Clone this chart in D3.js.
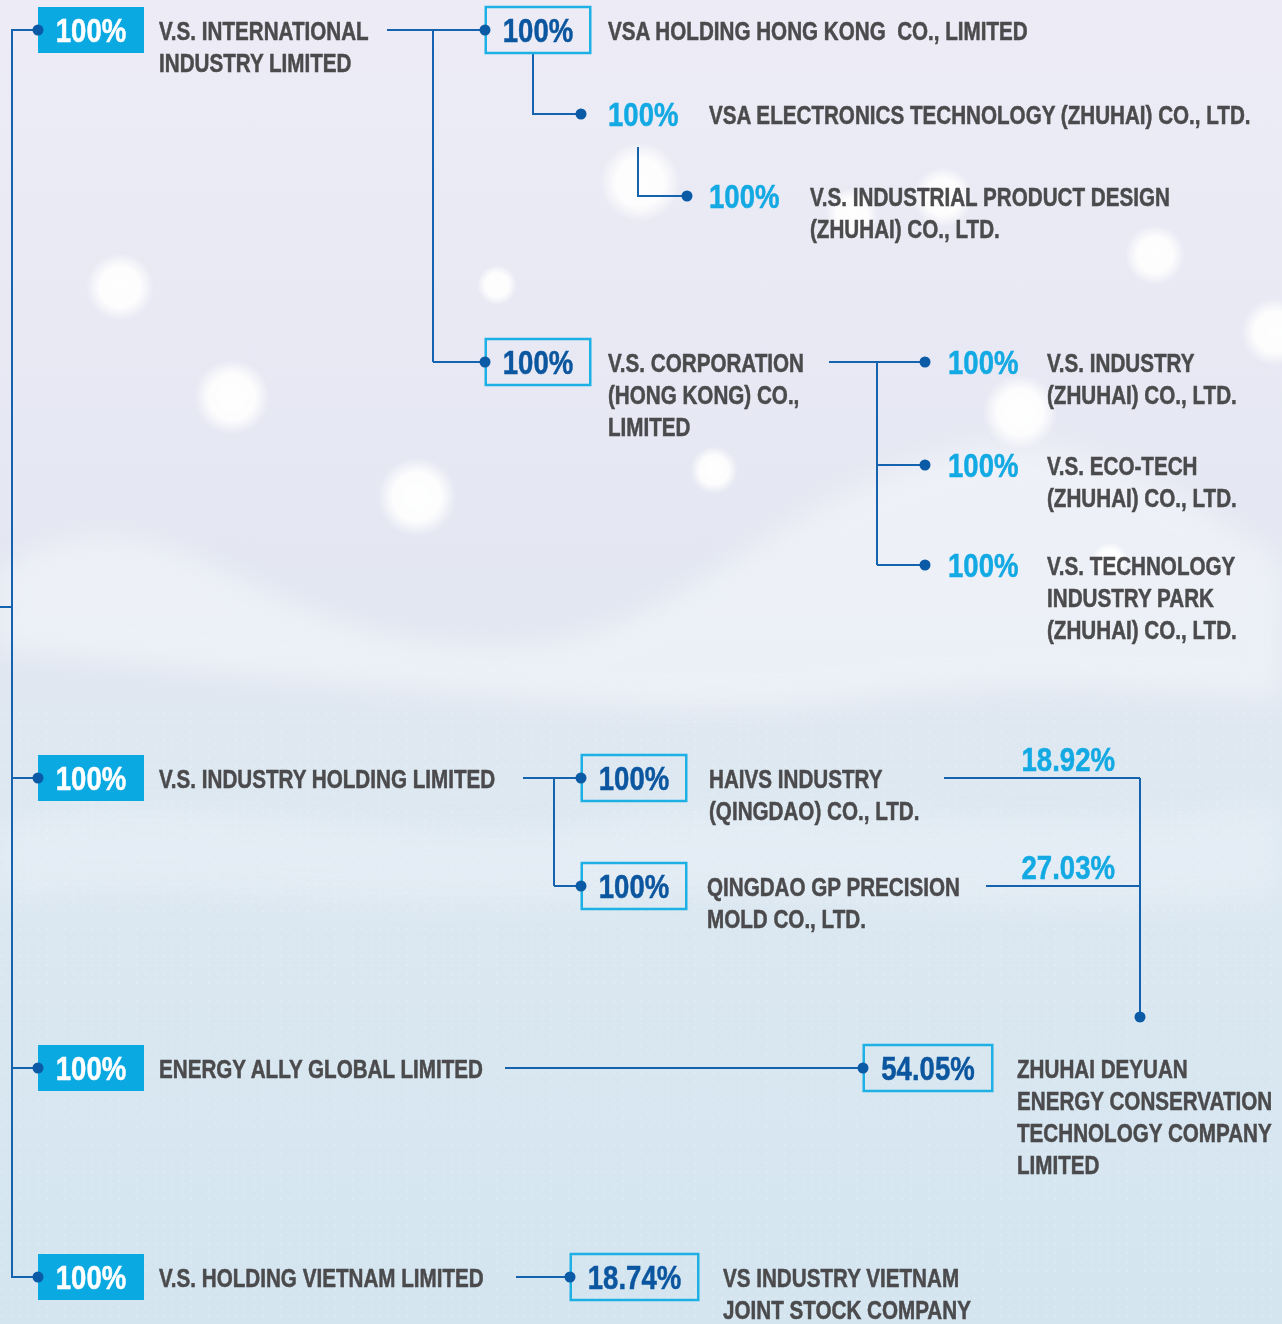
<!DOCTYPE html>
<html><head><meta charset="utf-8">
<script src="https://cdn.jsdelivr.net/npm/d3@7"></script>
<style>body{margin:0;background:#fff} svg{display:block}</style>
</head><body><svg id="c" width="1282" height="1324"></svg>
<script>
// ---------- DATA ----------
const nodeIds = ["vsi","vsahk","vsaez","vsipd","vschk","vsiz","vset","vstip","vsih","haivs","qgp","eag","deyuan","vshv","vsiv"];
const nodeNames = [
  ["V.S. INTERNATIONAL","INDUSTRY LIMITED"],
  ["VSA HOLDING HONG KONG  CO., LIMITED"],
  ["VSA ELECTRONICS TECHNOLOGY (ZHUHAI) CO., LTD."],
  ["V.S. INDUSTRIAL PRODUCT DESIGN","(ZHUHAI) CO., LTD."],
  ["V.S. CORPORATION","(HONG KONG) CO.,","LIMITED"],
  ["V.S. INDUSTRY","(ZHUHAI) CO., LTD."],
  ["V.S. ECO-TECH","(ZHUHAI) CO., LTD."],
  ["V.S. TECHNOLOGY","INDUSTRY PARK","(ZHUHAI) CO., LTD."],
  ["V.S. INDUSTRY HOLDING LIMITED"],
  ["HAIVS INDUSTRY","(QINGDAO) CO., LTD."],
  ["QINGDAO GP PRECISION","MOLD CO., LTD."],
  ["ENERGY ALLY GLOBAL LIMITED"],
  ["ZHUHAI DEYUAN","ENERGY CONSERVATION","TECHNOLOGY COMPANY","LIMITED"],
  ["V.S. HOLDING VIETNAM LIMITED"],
  ["VS INDUSTRY VIETNAM","JOINT STOCK COMPANY"]
];
const nodeShares = ["100%","100%","100%","100%","100%","100%","100%","100%","100%","100%","100%","100%","54.05%","100%","18.74%"];
const nodeKinds  = ["filled","outlined","plain","plain","outlined","plain","plain","plain","filled","outlined","outlined","filled","outlined","filled","outlined"];
// extra ownership labels (from HAIVS and QINGDAO GP into ZHUHAI DEYUAN)
const extraFrom   = ["haivs","qgp"];
const extraShares = ["18.92%","27.03%"];

// ---------- LAYOUT (positions only) ----------
const L = {
  vsi:   {x:38,  y:30,   w:106, tx:159},
  vsahk: {x:485, y:30,   w:106, tx:608},
  vsaez: {x:581, y:114,  px:608, tx:709},
  vsipd: {x:687, y:196,  px:709, tx:810},
  vschk: {x:485, y:362,  w:106, tx:608},
  vsiz:  {x:925, y:362,  px:948, tx:1047},
  vset:  {x:925, y:465,  px:948, tx:1047},
  vstip: {x:925, y:565,  px:948, tx:1047},
  vsih:  {x:38,  y:778,  w:106, tx:159},
  haivs: {x:581, y:778,  w:106, tx:709},
  qgp:   {x:581, y:886,  w:106, tx:707},
  eag:   {x:38,  y:1068, w:106, tx:159},
  deyuan:{x:863, y:1068, w:130, tx:1017},
  vshv:  {x:38,  y:1277, w:106, tx:159},
  vsiv:  {x:570, y:1277, w:129, tx:723}
};
const C = {
  line:"#1563ae", dot:"#0b5aa6", fill:"#0aa9e1", outline:"#1cb0e4",
  dark:"#0b569f", light:"#13a9e3", name:"#4b4b4d"
};
const FONT = "'Liberation Sans',Arial,'DejaVu Sans',sans-serif";
const NAME_SQ = 0.825, PCT_SQ = 0.835;   // horizontal condensing of the bold sans

const svg = d3.select("#c");
const W = 1282, H = 1324;

// ---------- BACKGROUND ----------
const defs = svg.append("defs");
const bg = defs.append("linearGradient").attr("id","bg").attr("x1",0).attr("y1",0).attr("x2",0).attr("y2",1);
bg.append("stop").attr("offset","0").attr("stop-color","#edecf6");
bg.append("stop").attr("offset","0.4").attr("stop-color","#e5e7f2");
bg.append("stop").attr("offset","0.6").attr("stop-color","#dde8f1");
bg.append("stop").attr("offset","1").attr("stop-color","#d4e5f0");
const glow = defs.append("radialGradient").attr("id","glow");
glow.append("stop").attr("offset","0").attr("stop-color","#fff").attr("stop-opacity",1);
glow.append("stop").attr("offset","0.6").attr("stop-color","#fff").attr("stop-opacity",0.95);
glow.append("stop").attr("offset","1").attr("stop-color","#fff").attr("stop-opacity",0);
defs.append("filter").attr("id","blur").append("feGaussianBlur").attr("stdDeviation",14);
const pat = defs.append("pattern").attr("id","dots").attr("width",9).attr("height",9).attr("patternUnits","userSpaceOnUse");
pat.append("circle").attr("cx",2).attr("cy",2).attr("r",1).attr("fill","#fff").attr("opacity",0.55);

svg.append("rect").attr("width",W).attr("height",H).attr("fill","url(#bg)");
const waveG = svg.append("g").attr("filter","url(#blur)").attr("opacity",0.6);
waveG.append("path").attr("fill","#f4f7fb")
  .attr("d","M0,570 C60,530 120,525 200,560 C300,610 380,650 520,645 C620,640 700,580 780,530 C860,480 960,430 1050,445 C1150,465 1220,520 1282,560 L1282,700 C1150,690 1000,680 860,700 C700,720 560,700 420,690 C260,680 120,660 0,650 Z");
waveG.append("path").attr("fill","#eef4f9").attr("opacity",0.7)
  .attr("d","M0,820 C200,780 400,850 600,820 C800,790 1000,840 1282,800 L1282,900 C1000,930 800,880 600,900 C400,920 200,880 0,900 Z");
svg.append("rect").attr("x",0).attr("y",700).attr("width",W).attr("height",H-700).attr("fill","url(#dots)").attr("opacity",0.4);
const bokeh = [[640,182,40],[120,287,34],[232,397,38],[417,497,40],[497,285,20],[1155,255,30],[1275,332,34],[1020,412,38],[943,197,30],[852,214,26],[714,470,24],[1110,560,18]];
svg.append("g").selectAll("circle").data(bokeh).join("circle")
  .attr("cx",d=>d[0]).attr("cy",d=>d[1]).attr("r",d=>d[2]).attr("fill","url(#glow)").attr("opacity",0.95);

// ---------- CONNECTORS ----------
const lines = svg.append("g").attr("fill","none").attr("stroke",C.line).attr("stroke-width",2);
const lineGen = d3.line();
const rootX = 12;
const rootKids = ["vsi","vsih","eag","vshv"];
lines.append("path").attr("d", lineGen([[L.vsi.x, L.vsi.y],[rootX, L.vsi.y],[rootX, L.vshv.y],[L.vshv.x, L.vshv.y]]));
rootKids.slice(1,3).forEach(id => lines.append("path").attr("d", lineGen([[rootX, L[id].y],[L[id].x, L[id].y]])));
lines.append("path").attr("d", lineGen([[0, 607],[rootX, 607]]));
const buses = [
  ["vsi",  ["vsahk","vschk"], 387, 433],
  ["vschk",["vsiz","vset","vstip"], 829, 877],
  ["vsih", ["haivs","qgp"], 523, 554],
  ["eag",  ["deyuan"], 505, null],
  ["vshv", ["vsiv"], 516, null]
];
buses.forEach(([p, kids, sx, bx]) => {
  if (bx === null) {
    lines.append("path").attr("d", lineGen([[sx, L[p].y],[L[kids[0]].x, L[kids[0]].y]]));
  } else {
    const ys = kids.map(k => L[k].y);
    lines.append("path").attr("d", lineGen([[sx, L[p].y],[bx, L[p].y]]));
    lines.append("path").attr("d", lineGen([[bx, Math.min(L[p].y, ...ys)],[bx, Math.max(...ys)]]));
    kids.forEach(k => lines.append("path").attr("d", lineGen([[bx, L[k].y],[L[k].x, L[k].y]])));
  }
});
const elbows = [["vsahk","vsaez",533,53],["vsaez","vsipd",638,147]];
elbows.forEach(([p,k,fx,fy]) => lines.append("path").attr("d", lineGen([[fx,fy],[fx,L[k].y],[L[k].x,L[k].y]])));
const mergeX = 1140, mergeEnd = 1017;
const extraStart = [944, 986];
extraFrom.forEach((id,i) => lines.append("path").attr("d", lineGen([[extraStart[i], L[id].y],[mergeX, L[id].y]])));
lines.append("path").attr("d", lineGen([[mergeX, L.haivs.y],[mergeX, mergeEnd]]));
svg.append("circle").attr("cx",mergeX).attr("cy",mergeEnd).attr("r",5.5).attr("fill",C.dot);
svg.append("g").selectAll("text").data(extraShares).join("text")
  .attr("class","pct")
  .attr("x",1115).attr("y",(d,i)=>L[extraFrom[i]].y - 7)
  .attr("text-anchor","end").attr("font-family",FONT).attr("font-weight","bold")
  .attr("font-size",33).attr("fill",C.light).attr("stroke",C.light).attr("stroke-width",0.5).text(d=>d);

// ---------- NODES ----------
const nodes = nodeIds.map((id,i)=>({id, names:nodeNames[i], share:nodeShares[i], kind:nodeKinds[i], ...L[id]}));
const ng = svg.append("g").selectAll("g").data(nodes).join("g");
ng.filter(d=>d.kind!=="plain").append("rect")
  .attr("x",d=>d.kind==="filled"?d.x:d.x+0.75).attr("y",d=>d.y-23).attr("width",d=>d.kind==="filled"?d.w:d.w-1.5).attr("height",46)
  .attr("fill",d=>d.kind==="filled"?C.fill:"none")
  .attr("stroke",d=>d.kind==="filled"?"none":C.outline).attr("stroke-width",2.5);
ng.append("circle").attr("cx",d=>d.x).attr("cy",d=>d.y).attr("r",5.5).attr("fill",C.dot);
ng.append("text").attr("class","pct")
  .attr("x",d=>d.kind==="plain"?d.px:d.x+d.w/2)
  .attr("y",d=>d.y+12)
  .attr("text-anchor",d=>d.kind==="plain"?"start":"middle")
  .attr("font-family",FONT).attr("font-weight","bold").attr("font-size",33)
  .attr("fill",d=>d.kind==="filled"?"#fff":(d.kind==="outlined"?C.dark:C.light))
  .attr("stroke",d=>d.kind==="filled"?"#fff":(d.kind==="outlined"?C.dark:C.light)).attr("stroke-width",0.5)
  .text(d=>d.share);
ng.selectAll("text.name").data(d=>d.names.map((t,j)=>({t,x:d.tx,y:d.y+10+j*32}))).join("text")
  .attr("class","name")
  .attr("x",d=>d.x).attr("y",d=>d.y)
  .attr("font-family",FONT).attr("font-weight","bold").attr("font-size",25).attr("fill",C.name)
  .attr("stroke",C.name).attr("stroke-width",0.5)
  .attr("xml:space","preserve").style("white-space","pre")
  .text(d=>d.t);

// condense glyphs horizontally (reference uses a condensed bold face)
svg.selectAll("text.name").each(function(){ const w=this.getComputedTextLength(); d3.select(this).attr("textLength",w*NAME_SQ).attr("lengthAdjust","spacingAndGlyphs"); });
svg.selectAll("text.pct").each(function(){ const w=this.getComputedTextLength(); d3.select(this).attr("textLength",w*PCT_SQ).attr("lengthAdjust","spacingAndGlyphs"); });
</script></body></html>
